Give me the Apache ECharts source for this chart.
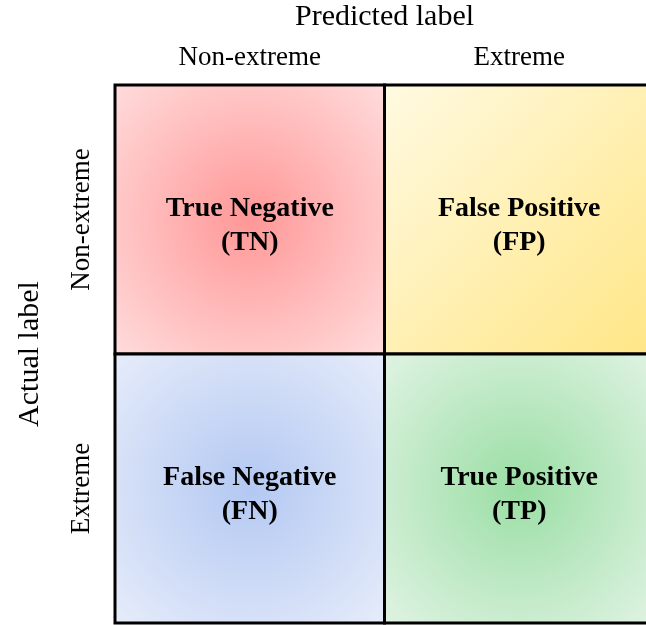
<!DOCTYPE html>
<html>
<head>
<meta charset="utf-8">
<script src="https://cdn.jsdelivr.net/npm/echarts@6/dist/echarts.min.js"></script>
<style>
  html, body { margin: 0; padding: 0; background: #fff; }
  #main { width: 646px; height: 625px; }
</style>
</head>
<body>
<div id="main"></div>
<script>
// axis categories
const predictedLabels = ['Non-extreme', 'Extreme']
const actualLabels = ['Non-extreme', 'Extreme']

// cells: [predicted index, actual index]
const cellPos = [[0, 0], [1, 0], [0, 1], [1, 1]]
const cellTitles = ['True Negative', 'False Positive', 'False Negative', 'True Positive']
const cellShort = ['TN', 'FP', 'FN', 'TP']

// fills per cell
const radial = (inner, outer) => ({
  type: 'radial', x: 0.5, y: 0.5, r: 0.7,
  colorStops: [{ offset: 0, color: inner }, { offset: 1, color: outer }]
})
const cellFills = [
  radial('#ff9797', '#ffdcdc'),
  {
    type: 'linear', x: 0, y: 0, x2: 1, y2: 1,
    colorStops: [{ offset: 0, color: '#fffae2' }, { offset: 1, color: '#ffe685' }]
  },
  radial('#b3c8f2', '#e6ecfa'),
  radial('#9adea4', '#e0f3e3')
]

const data = cellPos.map((p, i) => [p[0], p[1], i])

const chart = echarts.init(document.getElementById('main'))
const serif = '"Liberation Serif", "Times New Roman", serif'

chart.setOption({
  animation: false,
  grid: { left: 115, top: 85, right: -8, bottom: 2, outerBoundsMode: 'none' },
  xAxis: {
    type: 'category',
    position: 'top',
    data: predictedLabels,
    name: 'Predicted label',
    nameLocation: 'middle',
    nameGap: 53,
    nameTextStyle: { fontFamily: serif, fontSize: 30, color: '#000' },
    axisLine: { show: false },
    axisTick: { show: false },
    splitLine: { show: false },
    axisLabel: { fontFamily: serif, fontSize: 27, color: '#000', margin: 14 }
  },
  yAxis: {
    type: 'category',
    inverse: true,
    data: actualLabels,
    name: 'Actual label',
    nameLocation: 'middle',
    nameGap: 70,
    nameTextStyle: { fontFamily: serif, fontSize: 30, color: '#000' },
    axisLine: { show: false },
    axisTick: { show: false },
    splitLine: { show: false },
    axisLabel: { fontFamily: serif, fontSize: 27, color: '#000', rotate: 90, margin: 20 }
  },
  series: [{
    type: 'custom',
    clip: false,
    data: data,
    renderItem: (params, api) => {
      const c = api.coord([api.value(0), api.value(1)])
      const s = api.size([1, 1])
      const i = api.value(2)
      return {
        type: 'rect',
        shape: { x: c[0] - s[0] / 2, y: c[1] - s[1] / 2, width: s[0], height: s[1] },
        style: { fill: cellFills[i], stroke: '#000', lineWidth: 3 },
        textContent: {
          style: {
            text: cellTitles[i] + '\n(' + cellShort[i] + ')',
            font: 'bold 28px ' + serif,
            fill: '#000',
            align: 'center',
            lineHeight: 34
          }
        },
        textConfig: { position: 'inside', offset: [0, 6] }
      }
    }
  }]
})
</script>
</body>
</html>
